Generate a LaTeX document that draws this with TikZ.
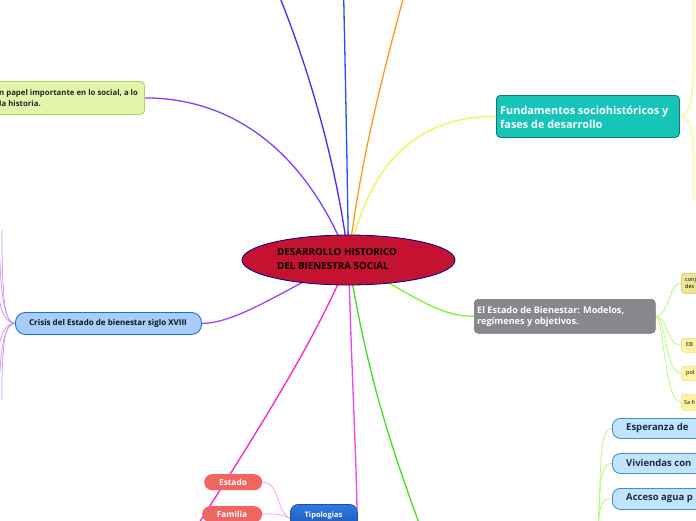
\documentclass[tikz,border=0pt]{standalone}
\usepackage{fontspec}
\setmainfont{Open Sans}
\usetikzlibrary{shapes.geometric,backgrounds}
\definecolor{crim}{HTML}{C41230}
\definecolor{tlfill}{HTML}{E2F5A9}
\definecolor{tldraw}{HTML}{A9D55A}
\definecolor{teal1}{HTML}{17C4B8}
\definecolor{teal2}{HTML}{0E7A70}
\definecolor{gray1}{HTML}{87888B}
\definecolor{gray2}{HTML}{76777A}
\definecolor{lbfill}{HTML}{C2E4FB}
\definecolor{lbdraw}{HTML}{3D8FE0}
\definecolor{crfill}{HTML}{A9CDFB}
\definecolor{crdraw}{HTML}{1E6FD9}
\definecolor{salmon}{HTML}{EF6660}
\definecolor{tipo1}{HTML}{2F7BE0}
\definecolor{tipo2}{HTML}{1A50B0}
\definecolor{ydark}{HTML}{EDE59A}
\definecolor{ydarkb}{HTML}{CFC660}
\definecolor{ylight}{HTML}{FFF3A8}
\definecolor{ylightb}{HTML}{F0DF80}
\definecolor{navy}{HTML}{1A2A50}
\definecolor{cpurple}{HTML}{8040FF}
\definecolor{cviolet}{HTML}{5A22F0}
\definecolor{cblue}{HTML}{2050FF}
\definecolor{corange}{HTML}{FF9A20}
\definecolor{cyellow}{HTML}{F2F250}
\definecolor{cgreen}{HTML}{80F030}
\definecolor{cgreen2}{HTML}{40E020}
\definecolor{cmag}{HTML}{F040F0}
\definecolor{cpink}{HTML}{FF20C8}
\definecolor{ccrisis}{HTML}{A040F8}
\definecolor{lgreen}{HTML}{B4F870}
\definecolor{lyellow}{HTML}{F8F890}
\definecolor{lpink}{HTML}{FF90FF}
\definecolor{lpurple}{HTML}{C890FF}
\tikzset{
  box/.style={inner sep=0pt, anchor=north west},
  txt/.style={inner sep=0pt, align=left, font=\bfseries},
  conn/.style={line width=1.3pt},
  sub/.style={line width=0.7pt},
}
\begin{document}
\begin{tikzpicture}[x=1pt,y=-1pt]
\useasboundingbox (0,0) rectangle (696,520);
\clip (0,0) rectangle (696,520);

% central
\node[ellipse, draw=blue!55!black, line width=0.8pt, fill=crim, minimum width=213pt, minimum height=50pt, inner sep=0pt] (c) at (348.5,260) {};
\node[txt, anchor=north west, font=\bfseries\fontsize{9.8}{14}\selectfont, text=black] (ct) at (277,248) {DESARROLLO HISTORICO\\DEL BIENESTRA SOCIAL};

% top-left
\node[box, draw=tldraw, line width=0.8pt, fill=tlfill, rounded corners=4pt, minimum width=164pt, minimum height=33pt] (tl) at (-20,81) {};
\node[txt, anchor=west, font=\bfseries\fontsize{7.8}{11}\selectfont, text=black!85] (tlt) at (-1,98) {n papel importante en lo social, a lo\\la historia.};

% Fundamentos
\node[box, draw=teal2, line width=0.8pt, fill=teal1, rounded corners=4pt, minimum width=183pt, minimum height=42pt] (f) at (496,95) {};
\node[txt, anchor=west, font=\bfseries\fontsize{10.9}{14}\selectfont, text=white] (ft) at (500,117) {Fundamentos sociohistóricos y\\fases de desarrollo};

% Estado de Bienestar
\node[box, fill=gray1, draw=gray2, line width=0.6pt, rounded corners=4pt, minimum width=181pt, minimum height=34pt] (g) at (474,299) {};
\node[txt, anchor=west, font=\bfseries\fontsize{9.1}{11.5}\selectfont, text=white] (gt) at (477,316.5) {El Estado de Bienestar: Modelos,\\regímenes y objetivos.};

% small yellow nodes
\node[box, fill=ydark, draw=ydarkb, line width=0.6pt, rounded corners=3pt, minimum width=30pt, minimum height=20pt] (n1) at (681,273) {};
\node[txt, anchor=west, font=\fontsize{5.5}{6.5}\selectfont] (n1t) at (685,283) {conj\\des};
\node[box, fill=ylight, draw=ylightb, line width=0.6pt, rounded corners=3pt, minimum width=30pt, minimum height=14pt] (n2) at (681,338) {};
\node[txt, anchor=west, font=\fontsize{5.5}{6.5}\selectfont] (n2t) at (686,345) {EB};
\node[box, fill=ylight, draw=ylightb, line width=0.6pt, rounded corners=3pt, minimum width=30pt, minimum height=14pt] (n3) at (681,366) {};
\node[txt, anchor=west, font=\fontsize{5.5}{6.5}\selectfont] (n3t) at (686,373) {pol};
\node[box, fill=ylight, draw=ylightb, line width=0.6pt, rounded corners=3pt, minimum width=30pt, minimum height=16pt] (n4) at (681,394) {};
\node[txt, anchor=west, font=\fontsize{5.5}{6.5}\selectfont] (n4t) at (684,402) {Sa fi};

% bottom right blue nodes
\node[box, fill=lbfill, draw=lbdraw, line width=0.9pt, rounded corners=8pt, minimum width=110pt, minimum height=20pt] (b1) at (612,418) {};
\node[txt, anchor=west, font=\bfseries\fontsize{9.5}{10}\selectfont, text=navy] (b1t) at (626,428) {Esperanza de};
\node[box, fill=lbfill, draw=lbdraw, line width=0.9pt, rounded corners=8pt, minimum width=110pt, minimum height=20pt] (b2) at (612,453) {};
\node[txt, anchor=west, font=\bfseries\fontsize{9.5}{10}\selectfont, text=navy] (b2t) at (626,463) {Viviendas con};
\node[box, fill=lbfill, draw=lbdraw, line width=0.9pt, rounded corners=8pt, minimum width=110pt, minimum height=21pt] (b3) at (612,488) {};
\node[txt, anchor=west, font=\bfseries\fontsize{9.5}{10}\selectfont, text=navy] (b3t) at (626,498.5) {Acceso agua p};
\coordinate (bb) at (597,545);

% Tipologias
\node[box, top color=tipo1, bottom color=tipo2, draw=tipo2, line width=0.8pt, rounded corners=8pt, minimum width=67pt, minimum height=28pt] (t) at (290,504) {};
\node[txt, font=\bfseries\fontsize{7.5}{9}\selectfont, text=white] (tt) at (323.5,516) {Tipologias};

% Estado / Familia
\node[box, fill=salmon, rounded corners=8pt, minimum width=58pt, minimum height=16pt] (e) at (204,474) {};
\node[txt, font=\bfseries\fontsize{8.3}{9}\selectfont, text=white] (et) at (233,482) {Estado};
\node[box, fill=salmon, rounded corners=8pt, minimum width=60pt, minimum height=16pt] (fa) at (202,506) {};
\node[txt, font=\bfseries\fontsize{8.3}{9}\selectfont, text=white] (fat) at (232,514) {Familia};

% Crisis
\node[box, fill=crfill, draw=crdraw, line width=0.9pt, rounded corners=10pt, minimum width=186pt, minimum height=22pt] (cr) at (15,312) {};
\node[txt, font=\bfseries\fontsize{8}{9}\selectfont, text=black!80!teal] (crt) at (108,323) {Crisis del Estado de bienestar siglo XVIII};

% off-picture coordinates
\coordinate (top1) at (276,-12);
\coordinate (top2) at (343.5,-12);
\coordinate (top3) at (406,-12);
\coordinate (bot1) at (427,545);
\coordinate (bot2) at (185,545);

\begin{scope}[on background layer]
\fill[white] (0,0) rectangle (696,520);
% main connectors
\draw[conn, cpurple] (tl.east) .. controls (240,98) and (310,160) .. (c.center);
\draw[conn, cviolet] (c.center) .. controls (338,170) and (310,70) .. (top1);
\draw[conn, cblue] (c.center) .. controls (347,150) and (345,60) .. (top2);
\draw[conn, corange] (c.center) .. controls (360,160) and (384,70) .. (top3);
\draw[conn, cyellow] (c.center) .. controls (368,160) and (420,116) .. (f.west);
\draw[conn, cgreen] (c.center) .. controls (420,300) and (440,316) .. (g.west);
\draw[conn, cgreen2] (c.center) .. controls (368,380) and (392,450) .. (bot1);
\draw[conn, cmag] (c.center) .. controls (352,380) and (356,450) .. (357,510);
\draw[conn, cpink] (c.center) .. controls (315,340) and (265,420) .. (bot2);
\draw[conn, ccrisis] (c.center) .. controls (290,285) and (240,323) .. (cr.east);

% Fundamentos children
\draw[sub, lyellow] (f.east) .. controls (690,116) and (693,100) .. (693,50) -- (693,-5);
\draw[sub, lyellow] (f.east) .. controls (691,116) and (695,95) .. (695,40) -- (695,-5);
\draw[sub, lyellow] (f.east) .. controls (690,116) and (693,130) .. (693,170) -- (693,200);
\draw[sub, lyellow] (f.east) .. controls (691,116) and (695,135) .. (695,180) -- (695,200);

% Estado de Bienestar children
\draw[sub, lgreen] (g.east) .. controls (670,316) and (668,283) .. (n1.west);
\draw[sub, lgreen] (g.east) .. controls (668,316) and (666,345) .. (n2.west);
\draw[sub, lgreen] (g.east) .. controls (666,316) and (665,373) .. (n3.west);
\draw[sub, lgreen] (g.east) .. controls (664,316) and (664,402) .. (n4.west);

% bottom-right children
\draw[sub, lgreen] (bb) .. controls (602,470) and (598,428) .. (b1.west);
\draw[sub, lgreen] (bb) .. controls (601,490) and (598,463) .. (b2.west);
\draw[sub, lgreen] (bb) .. controls (600,510) and (598,498) .. (b3.west);

% Tipologias children
\draw[sub, lpink] (t.west) .. controls (276,512) and (280,482) .. (e.east);
\draw[sub, lpink] (t.west) .. controls (280,513) and (272,514) .. (fa.east);

% Crisis children
\draw[sub, lpurple] (cr.west) .. controls (5,323) and (3,305) .. (2,250) -- (2,230);
\draw[sub, lpurple] (cr.west) .. controls (6,323) and (1,300) .. (0,260);
\draw[sub, lpurple] (cr.west) .. controls (6,323) and (0,312) .. (-2,290);
\draw[sub, lpurple] (cr.west) .. controls (5,323) and (3,340) .. (2,380) -- (2,400);
\draw[sub, lpurple] (cr.west) .. controls (6,323) and (1,345) .. (0,372);
\draw[sub, lpurple] (cr.west) .. controls (6,323) and (0,333) .. (-2,355);
\end{scope}
\end{tikzpicture}
\end{document}
